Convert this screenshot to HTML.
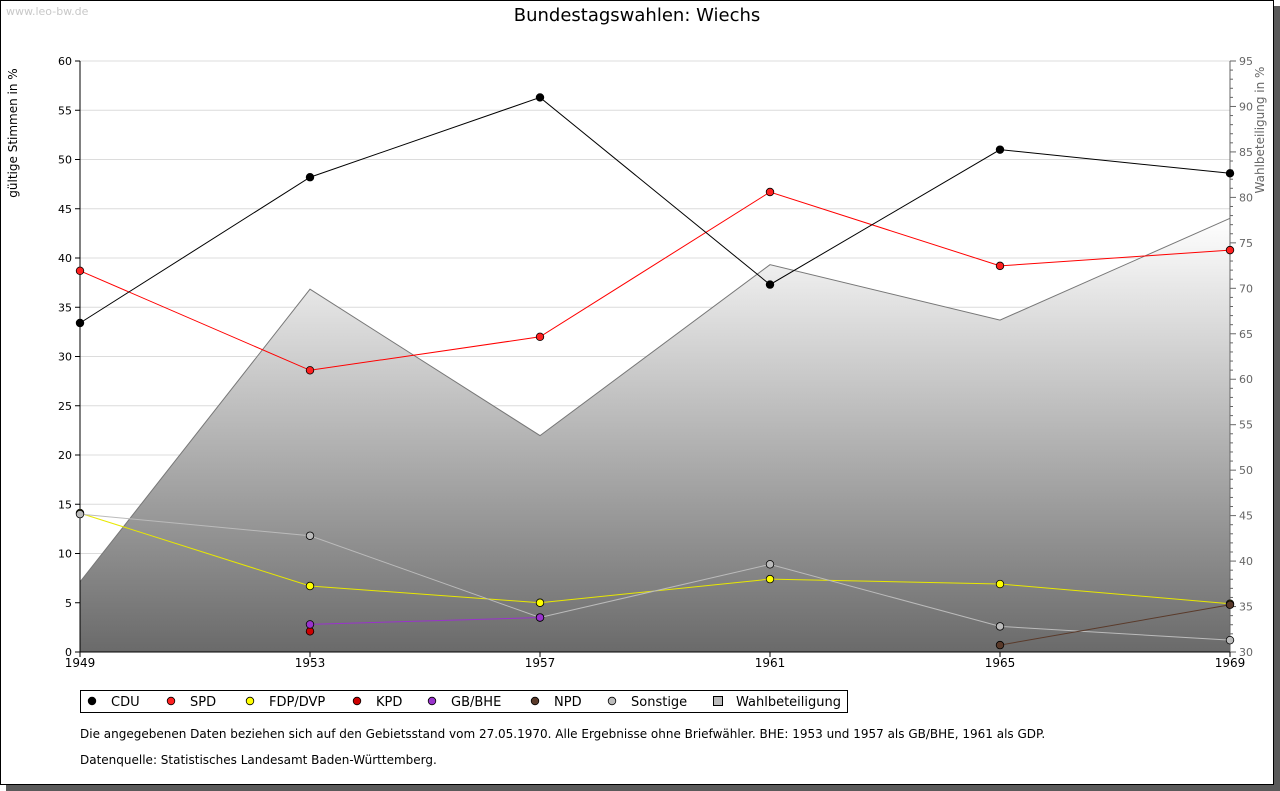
<!DOCTYPE html>
<html><head><meta charset="utf-8"><style>
html,body{margin:0;padding:0;background:#fff;width:1280px;height:791px;overflow:hidden}
svg{display:block;font-family:"DejaVu Sans","Liberation Sans",sans-serif}
</style></head><body>
<svg id="c" width="1280" height="791" xmlns="http://www.w3.org/2000/svg">
<defs><linearGradient id="g" x1="0" y1="0" x2="0" y2="1"><stop offset="0" stop-color="#ffffff"/><stop offset="1" stop-color="#6a6a6a"/></linearGradient></defs>
<rect x="6" y="6" width="1274" height="785" fill="#5a5a5a"/>
<rect x="0.5" y="0.5" width="1273" height="784" fill="#fff" stroke="#000"/>
<text x="6" y="15" font-size="11" fill="#c8c8c8">www.leo-bw.de</text>
<text x="637" y="21" font-size="18" text-anchor="middle">Bundestagswahlen: Wiechs</text>
<text transform="translate(17,133) rotate(-90)" font-size="12" text-anchor="middle">gültige Stimmen in %</text>
<text transform="translate(1264,130) rotate(-90)" font-size="12" fill="#666" text-anchor="middle">Wahlbeteiligung in %</text>
<g id="plot"></g>
<rect x="80.5" y="690.5" width="767" height="22" fill="#fff" stroke="#000"/>
<g id="leg"></g>
<text x="80" y="738" font-size="12">Die angegebenen Daten beziehen sich auf den Gebietsstand vom 27.05.1970. Alle Ergebnisse ohne Briefwähler. BHE: 1953 und 1957 als GB/BHE, 1961 als GDP.</text>
<text x="80" y="764" font-size="12">Datenquelle: Statistisches Landesamt Baden-Württemberg.</text>
</svg>
<script>
const years=[1949,1953,1957,1961,1965,1969];
const cdu=[33.4,48.2,56.3,37.3,51.0,48.6];
const spd=[38.7,28.6,32.0,46.7,39.2,40.8];
const fdp=[14.1,6.7,5.0,7.4,6.9,4.9];
const kpd=[null,2.1,null,null,null,null];
const bhe=[null,2.8,3.5,null,null,null];
const npd=[null,null,null,null,0.7,4.8];
const sonst=[14.0,11.8,3.5,8.9,2.6,1.2];
const turnout=[37.7,69.9,53.8,72.6,66.5,77.7];
const leftTicks=[0,5,10,15,20,25,30,35,40,45,50,55,60];
const rightTicks=[30,35,40,45,50,55,60,65,70,75,80,85,90,95];
const NS='http://www.w3.org/2000/svg';
const X0=80,X1=1230,Y0=652,Y1=61;
const xs=y=>X0+(y-1949)/(1969-1949)*(X1-X0);
const yl=v=>Y0-v/60*(Y0-Y1);
const yr=v=>Y0-(v-30)/65*(Y0-Y1);
const plot=document.getElementById('plot');
function mk(tag,attrs,parent){const e=document.createElementNS(NS,tag);for(const k in attrs)e.setAttribute(k,attrs[k]);(parent||plot).appendChild(e);return e;}
// grid (behind area)
leftTicks.forEach(t=>{
 if(t>0){let g=mk('line',{x1:X0,x2:X1,y1:yl(t),y2:yl(t),stroke:'#dcdcdc','stroke-width':1});
 
 }
});
// area
let d='M'+xs(years[0])+','+Y0;
years.forEach((y,i)=>d+=' L'+xs(y)+','+yr(turnout[i]));
d+=' L'+xs(years[years.length-1])+','+Y0+' Z';
let a=mk('path',{d:d,fill:'url(#g)'});


leftTicks.forEach(t=>{
 mk('line',{x1:X0-5,x2:X0,y1:yl(t),y2:yl(t),stroke:'#000'});
 let tx=mk('text',{x:X0-8,y:yl(t)+4,'font-size':11,'text-anchor':'end'});tx.textContent=t;
 
 
});
let ol=mk('polyline',{points:years.map((y,i)=>xs(y)+','+yr(turnout[i])).join(' '),fill:'none',stroke:'#777'});


for(let v=30;v<=95;v+=5){mk('line',{x1:X1,x2:X1+6,y1:yr(v),y2:yr(v),stroke:'#666'});}
for(let v=30;v<95;v+=5){for(let k=1;k<5;k++)mk('line',{x1:X1,x2:X1+3,y1:yr(v+k),y2:yr(v+k),stroke:'#666'});}
rightTicks.forEach(t=>{let tx=mk('text',{x:X1+9,y:yr(t)+4,'font-size':11,fill:'#666'});tx.textContent=t;
 
 });
mk('line',{x1:X0,x2:X0,y1:Y1,y2:Y0,stroke:'#000'});
mk('line',{x1:X1,x2:X1,y1:Y1,y2:Y0,stroke:'#666'});
mk('line',{x1:X0,x2:X1,y1:Y0,y2:Y0,stroke:'#000'});
years.forEach(y=>{mk('line',{x1:xs(y),x2:xs(y),y1:Y0,y2:Y0+5,stroke:'#000'});
 let tx=mk('text',{x:xs(y),y:Y0+15,'font-size':12,'text-anchor':'middle'});tx.textContent=y;
 
 });
const series=[
 ['fdp-dvp',fdp,'#ffff00','#e8e800'],
 ['sonstige',sonst,'#bbbbbb','#bbbbbb'],
 ['kpd',kpd,'#cc0000','#cc0000'],
 ['gb-bhe',bhe,'#9933cc','#9933cc'],
 ['npd',npd,'#5a3a2a','#5a3a2a'],
 ['spd',spd,'#ff2020','#ff0000'],
 ['cdu',cdu,'#000000','#000000']];
series.forEach(([n,vals,fill,line])=>{
 const pts=[];vals.forEach((v,i)=>{if(v!==null)pts.push(xs(years[i])+','+yl(v));});
 if(pts.length>1){let p=mk('polyline',{points:pts.join(' '),fill:'none',stroke:line,'stroke-width':1});
 
 }
 vals.forEach((v,i)=>{if(v===null)return;
  let c=mk('circle',{cx:xs(years[i]),cy:yl(v),r:3.8,fill:fill,stroke:'#000','stroke-width':0.8});
  
  });
});
// legend
const leg=document.getElementById('leg');
const legItems=[['CDU','#000',92],['SPD','#ff2020',171],['FDP/DVP','#ffff00',250],['KPD','#cc0000',357],['GB/BHE','#9933cc',432],['NPD','#5a3a2a',535],['Sonstige','#bbbbbb',612]];
legItems.forEach(([t,c,x])=>{
 let m=mk('circle',{cx:x,cy:701,r:3.8,fill:c,stroke:'#000','stroke-width':0.8},leg);
 
 
 let tx=mk('text',{x:x+19,y:706,'font-size':13},leg);tx.textContent=t;
 
 
});
let sq=mk('rect',{x:713.5,y:696.5,width:9,height:9,fill:'#bbb',stroke:'#000'},leg);


let tw=mk('text',{x:736,y:706,'font-size':13},leg);tw.textContent='Wahlbeteiligung';


</script>
</body></html>
